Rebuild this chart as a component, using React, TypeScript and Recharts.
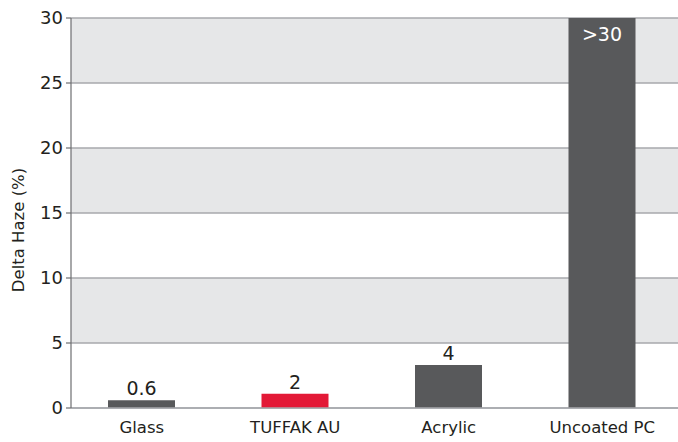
import React from 'react';
import { BarChart, Bar, XAxis, YAxis, CartesianGrid, Cell, LabelList } from 'recharts';

const categories = ['Glass', 'TUFFAK AU', 'Acrylic', 'Uncoated PC'];
const values = [0.6, 1.1, 3.3, 30];
const valueLabels = ['0.6', '2', '4', '>30'];
const barColors = ['#58595b', '#e31937', '#58595b', '#58595b'];
const yTicks = [0, 5, 10, 15, 20, 25, 30];

const data = categories.map((name, i) => ({ name, value: values[i], label: valueLabels[i] }));

const FONT = '"DejaVu Sans", "Noto Sans", sans-serif';

const renderValueLabel = (props: any) => {
  const { x, y, width, index } = props;
  const cx = x + width / 2;
  const inside = index === values.length - 1;
  return (
    <text
      x={cx}
      y={inside ? y + 23 : y - 5}
      textAnchor="middle"
      fill={inside ? '#ffffff' : '#231f20'}
      fontSize={19}
      fontFamily={FONT}
    >
      {valueLabels[index]}
    </text>
  );
};

export default function App() {
  return (
    <div style={{ position: 'absolute', left: 0, top: 0, background: '#fff' }}>
      <BarChart
        width={678}
        height={442}
        data={data}
        margin={{ top: 18, right: 0, bottom: 0, left: 0 }}
        barCategoryGap={0}
      >
        <CartesianGrid
          vertical={false}
          stroke="#a7a9ac"
          strokeWidth={1.5}
          horizontalFill={['#e6e7e8', '#ffffff']}
          fillOpacity={1}
        />
        <XAxis
          dataKey="name"
          height={34}
          padding={{ left: -6, right: -1 }}
          tickLine={false}
          axisLine={{ stroke: '#a7a9ac', strokeWidth: 1.5 }}
          tick={{ fill: '#231f20', fontSize: 16.5, fontFamily: FONT }}
          tickMargin={7}
          interval={0}
        />
        <YAxis
          width={71}
          domain={[0, 30]}
          ticks={yTicks}
          interval={0}
          tickSize={5}
          tickMargin={3}
          axisLine={{ stroke: '#6d6e71', strokeWidth: 1.2 }}
          tickLine={{ stroke: '#6d6e71', strokeWidth: 1.2 }}
          tick={{ fill: '#231f20', fontSize: 18, fontFamily: FONT }}
          label={{
            value: 'Delta Haze (%)',
            angle: -90,
            position: 'center',
            dx: -17,
            dy: 17,
            fill: '#231f20',
            fontSize: 16.5,
            fontFamily: FONT,
          }}
        />
        <Bar dataKey="value" barSize={67} isAnimationActive={false}>
          {data.map((d, i) => (
            <Cell key={d.name} fill={barColors[i]} />
          ))}
          <LabelList dataKey="label" content={renderValueLabel} />
        </Bar>
      </BarChart>
    </div>
  );
}
